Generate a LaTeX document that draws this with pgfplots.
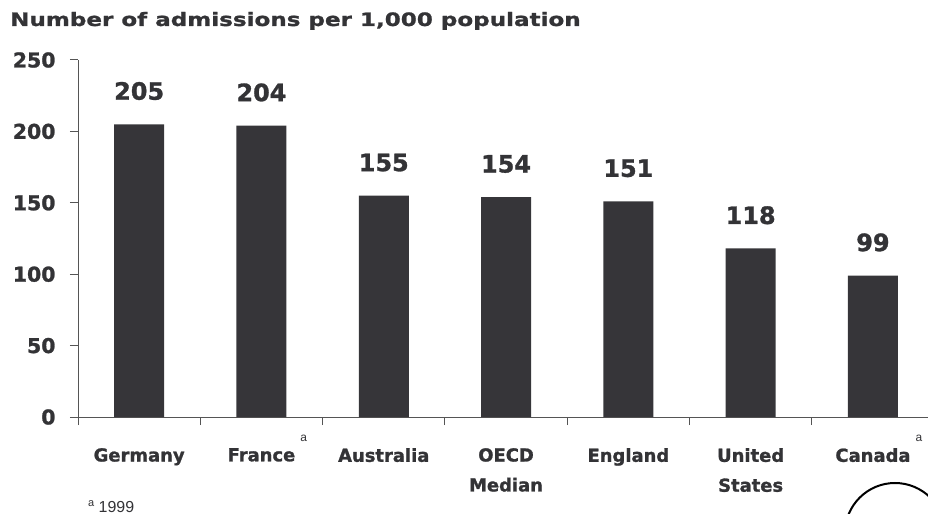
\documentclass[border=0pt]{standalone}
\usepackage{pgfplots}
\pgfplotsset{compat=1.18}
\usepackage{fontspec}
\setmainfont{DejaVu Sans}[BoldFont=DejaVu Sans Bold, BoldFeatures={FakeBold=1.2}]
\newfontfamily\hvt{DejaVu Sans Bold}[FakeStretch=1.25, FakeBold=1.2]
\newfontfamily\lib{Liberation Sans}
\definecolor{barc}{HTML}{363539}
\definecolor{txt}{HTML}{333336}
\definecolor{axc}{HTML}{555555}
\newcommand{\sa}{\rlap{\hspace{5bp}\smash{\raisebox{20bp}{\lib\mdseries\fontsize{12}{12}\selectfont a}}}}
\begin{document}
\begin{tikzpicture}
\clip (0,0) rectangle (928bp,514bp);
\useasboundingbox (0,0) rectangle (928bp,514bp);
\node[anchor=base west, inner sep=0, text=txt, font=\hvt\fontsize{18.5}{18.5}\selectfont] at (10bp,488bp) {Number of admissions per 1,000 population};
\node[anchor=base west, inner sep=0, text=txt, font=\lib\fontsize{16}{16}\selectfont] at (88bp,2bp) {\raisebox{6bp}{\fontsize{11}{11}\selectfont a} 1999};
\begin{axis}[
  at={(78bp,97bp)}, anchor=south west,
  scale only axis, width=850bp, height=357bp,
  xmin=-0.5, xmax=6.45, ymin=0, ymax=250,
  axis x line*=bottom, axis y line*=left,
  axis line style={axc, line width=1bp},
  every outer x axis line/.append style={-}, every outer y axis line/.append style={-},
  ytick={0,50,...,250},
  tick align=outside,
  major tick length=8bp,
  tick style={axc, line width=1bp},
  /pgf/number format/assume math mode=true,
  yticklabel style={font=\fontsize{20.5}{20.5}\selectfont\bfseries, text=txt, xshift=-11bp},
  xtick={0,...,6},
  x tick style={draw=none},
  xticklabels={Germany, France\sa, Australia, OECD\\[9bp]Median, England, United\\[9bp]States, Canada\sa},
  xticklabel style={font=\fontsize{18}{21}\selectfont\bfseries, text=txt, align=center, anchor=north, yshift=-23bp, inner sep=0},
  extra x ticks={-0.5,0.5,...,5.5},
  extra x tick labels={},
  extra x tick style={x tick style={draw=axc}, major tick length=8bp},
  ybar, bar width=50bp,
  nodes near coords,
  nodes near coords style={font=\fontsize{24}{24}\selectfont\bfseries, text=txt, anchor=south, inner sep=0, yshift=24bp},
  clip=false,
]
\addplot[fill=barc, draw=none] coordinates {(0,205) (1,204) (2,155) (3,154) (4,151) (5,118) (6,99)};
\end{axis}
\draw[black, line width=2bp] (895bp,-19bp) circle (50bp);
\end{tikzpicture}
\end{document}
